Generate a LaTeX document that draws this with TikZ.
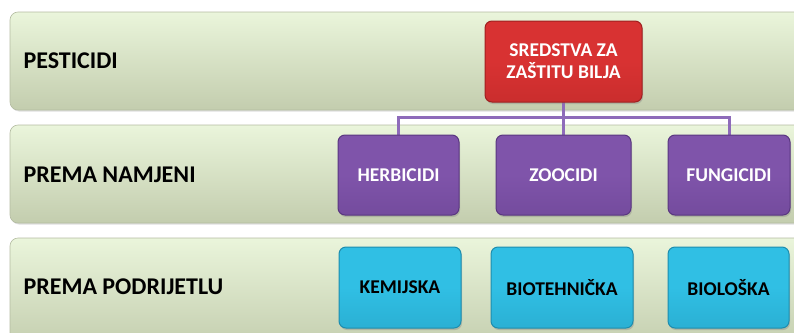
\documentclass[tikz,border=0pt]{standalone}
\usepackage{fontspec}
\setmainfont{Carlito}
\usetikzlibrary{shadows}
\definecolor{bandtop}{HTML}{EAF5DB}
\definecolor{bandbot}{HTML}{C3CDAE}
\definecolor{bandline}{HTML}{B4BCA2}
\definecolor{redbox}{HTML}{D83232}
\definecolor{reddark}{HTML}{A02020}
\definecolor{purplebox}{HTML}{7F54AA}
\definecolor{purpledark}{HTML}{5A3780}
\definecolor{cyanbox}{HTML}{30BFE4}
\definecolor{cyandark}{HTML}{1D8DAE}
\definecolor{linkcol}{HTML}{8E6BBA}
\tikzset{
  band/.style={rounded corners=8pt, top color=bandtop, bottom color=bandbot, draw=bandline, line width=0.6pt, drop shadow={opacity=0.25, shadow xshift=1pt, shadow yshift=-1.5pt}},
  bandlabel/.style={anchor=west, font=\fontsize{24}{28}\selectfont\bfseries, text=black},
  catbox/.style={rounded corners=7pt, line width=1pt, minimum height=80pt, align=center, font=\fontsize{19.5}{22}\selectfont\bfseries, drop shadow={opacity=0.35, shadow xshift=1pt, shadow yshift=-2pt}},
  redbox/.style={catbox, top color=redbox, bottom color=redbox!75!reddark, middle color=redbox, draw=reddark, text=white},
  purplebox/.style={catbox, top color=purplebox, bottom color=purplebox!70!purpledark, middle color=purplebox, draw=purpledark, text=white},
  cyanbox/.style={catbox, top color=cyanbox, bottom color=cyanbox!70!cyandark, middle color=cyanbox, draw=cyandark, text=black},
  link/.style={draw=linkcol, line width=3pt}
}
\begin{document}
\begin{tikzpicture}[x=1pt,y=-1pt]
  %%%%% START %%%%%
  \useasboundingbox (0,0) rectangle (794,332);
  \clip (0,0) rectangle (794,332);

  \draw[band] (10,12) rectangle (820,110);
  \draw[band] (10,125) rectangle (820,223);
  \draw[band] (10,238) rectangle (820,350);

  \node[bandlabel] (pest) at (20,61) {PESTICIDI};
  \node[bandlabel] (namj) at (20,175) {PREMA NAMJENI};
  \node[bandlabel] (podr) at (20,287) {PREMA PODRIJETLU};

  \coordinate (hub) at (563,117);
  \draw[link] (563,100) -- (hub);
  \draw[link] (hub) -| (398.5,140);
  \draw[link] (hub) -- (563,140);
  \draw[link] (hub) -| (729,140);

  \node[redbox, minimum width=157pt, minimum height=81pt] (zast) at (563.5,61.5) {SREDSTVA ZA\\ZAŠTITU BILJA};

  \node[purplebox, minimum width=121pt] (herb) at (398.5,175) {HERBICIDI};
  \node[purplebox, minimum width=135pt] (zoo) at (563.5,175) {ZOOCIDI};
  \node[purplebox, minimum width=122pt] (fung) at (729,175) {FUNGICIDI};

  \node[cyanbox, minimum width=122pt, minimum height=81pt] (kem) at (400,287.5) {KEMIJSKA};
  \node[cyanbox, minimum width=142pt, minimum height=81pt] (biot) at (562,287.5) {BIOTEHNIČKA};
  \node[cyanbox, minimum width=121pt, minimum height=81pt] (biol) at (728.5,287.5) {BIOLOŠKA};
  %%%%% END %%%%%
\end{tikzpicture}
\end{document}
